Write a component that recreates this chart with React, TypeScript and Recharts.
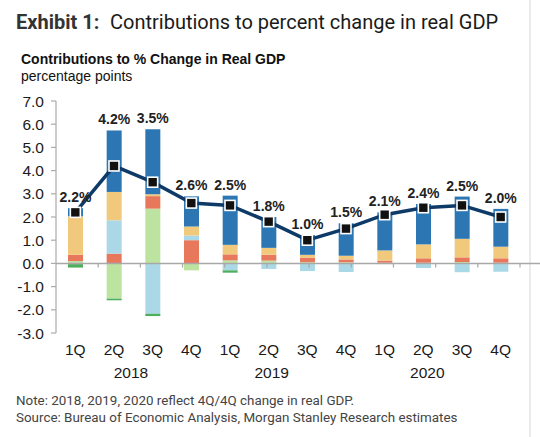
import React from 'react';
import { ComposedChart, Bar, Line, XAxis, YAxis, ReferenceLine, LabelList } from 'recharts';

// ---- data ----
const quarters = ['1Q', '2Q', '3Q', '4Q', '1Q', '2Q', '3Q', '4Q', '1Q', '2Q', '3Q', '4Q'];
const years = ['2018', '2018', '2018', '2018', '2019', '2019', '2019', '2019', '2020', '2020', '2020', '2020'];
const inventories = [0.1, -1.52, 2.36, -0.3, 0.13, 0.12, 0.05, 0.05, 0.03, 0.03, 0.06, 0.03];
const government = [0.27, 0.42, 0.54, 1.0, 0.26, 0.25, 0.2, 0.12, 0.09, 0.19, 0.2, 0.19];
const netExports = [-0.03, 1.44, -2.17, 0.2, -0.3, -0.24, -0.33, -0.37, -0.03, -0.2, -0.38, -0.36];
const businessInvestment = [1.66, 1.22, 0.08, 0.39, 0.41, 0.3, 0.12, 0.16, 0.44, 0.6, 0.8, 0.5];
const residential = [-0.15, -0.07, -0.1, 0, -0.1, 0, 0, 0, 0, 0, 0, 0];
const consumption = [0.35, 2.65, 2.8, 1.3, 2.12, 1.33, 0.85, 1.4, 1.64, 1.74, 1.82, 1.63];
const realGdp = [2.2, 4.2, 3.5, 2.6, 2.5, 1.8, 1.0, 1.5, 2.1, 2.4, 2.5, 2.0];
const yTicks = [-3, -2, -1, 0, 1, 2, 3, 4, 5, 6, 7];
const boundaries = [1, 2, 3, 4, 5, 6, 7, 8, 9, 10, 11, 12];

const data = quarters.map((q, i) => ({
  key: `${q} ${years[i]}`,
  quarter: q,
  year: years[i],
  inventories: inventories[i],
  government: government[i],
  netExports: netExports[i],
  businessInvestment: businessInvestment[i],
  residential: residential[i],
  consumption: consumption[i],
  total: realGdp[i],
}));

const AXIS_FONT = '"Liberation Sans", Arial, sans-serif';
const ROBOTO = 'Roboto, "Noto Sans", sans-serif';
const YEAR_DX = [17, 3, 4];

const QuarterTick = (props: any) => {
  const { x, y, index } = props;
  const d = data[index];
  const showYear = index % 4 === 1;
  return (
    <g>
      <text x={x} y={y + 22} textAnchor="middle" fontSize={15.5} fontFamily={AXIS_FONT} fill="#1a1a1a">
        {d.quarter}
      </text>
      {showYear && (
        <text
          x={x + YEAR_DX[Math.floor(index / 4)]}
          y={y + 44.5}
          textAnchor="middle"
          fontSize={15.5}
          fontFamily={AXIS_FONT}
          fill="#1a1a1a"
        >
          {d.year}
        </text>
      )}
    </g>
  );
};

const SquareDot = (props: any) => {
  const { cx, cy, index } = props;
  if (cx == null || cy == null) return <g key={index} />;
  return (
    <rect key={index} x={cx - 5} y={cy - 5} width={10} height={10} fill="#111" stroke="#fff" strokeWidth={1.6} />
  );
};

export default function App() {
  return (
    <div style={{ position: 'absolute', left: 0, top: 0, width: 540, height: 437, background: '#fff', overflow: 'hidden' }}>
      <svg width={540} height={437} style={{ position: 'absolute', left: 0, top: 0 }}>
        <text x={16} y={29} fontFamily={ROBOTO} fontSize={20} fontWeight={700} fill="#333">
          Exhibit 1:
        </text>
        <text x={110} y={29} fontFamily={ROBOTO} fontSize={20} fill="#1a1a1a">
          Contributions to percent change in real GDP
        </text>
        <text x={21} y={64} fontFamily={AXIS_FONT} fontSize={14} fontWeight={700} fill="#111">
          Contributions to % Change in Real GDP
        </text>
        <text x={21} y={81} fontFamily={AXIS_FONT} fontSize={14} fill="#111">
          percentage points
        </text>
        <text x={16} y={405} fontFamily={ROBOTO} fontSize={13.4} fill="#444">
          Note: 2018, 2019, 2020 reflect 4Q/4Q change in real GDP.
        </text>
        <text x={16} y={422} fontFamily={ROBOTO} fontSize={13.4} fill="#444">
          Source: Bureau of Economic Analysis, Morgan Stanley Research estimates
        </text>
        <line x1={530} y1={0} x2={530} y2={437} stroke="#e4e4e4" strokeWidth={1.5} />
      </svg>
      <div style={{ position: 'absolute', left: 0, top: 0 }}>
        <ComposedChart
          width={540}
          height={437}
          data={data}
          stackOffset="sign"
          margin={{ top: 101, right: 20, bottom: 64, left: 0 }}
          barCategoryGap={0}
        >
          <YAxis
            domain={[-3, 7]}
            ticks={yTicks}
            interval={0}
            width={56}
            tickFormatter={(v: number) => v.toFixed(1)}
            tick={{ fontSize: 15.5, fontFamily: AXIS_FONT, fill: '#1a1a1a' }}
            axisLine={{ stroke: '#aaa', strokeWidth: 1.2 }}
            tickLine={{ stroke: '#aaa', strokeWidth: 1.2 }}
            tickSize={5}
            tickMargin={7}
          />
          <XAxis
            dataKey="key"
            height={40}
            interval={0}
            axisLine={false}
            tickLine={false}
            tickSize={0}
            tickMargin={0}
            tick={<QuarterTick />}
          />
          <XAxis xAxisId="num" type="number" domain={[0, 12]} allowDataOverflow hide />
          <Bar dataKey="inventories" stackId="a" fill="#bce3a0" barSize={15} isAnimationActive={false} />
          <Bar dataKey="government" stackId="a" fill="#e8785b" barSize={15} isAnimationActive={false} />
          <Bar dataKey="netExports" stackId="a" fill="#aad8e7" barSize={15} isAnimationActive={false} />
          <Bar dataKey="businessInvestment" stackId="a" fill="#f0c97d" barSize={15} isAnimationActive={false} />
          <Bar dataKey="residential" stackId="a" fill="#4daf5c" barSize={15} isAnimationActive={false} />
          <Bar dataKey="consumption" stackId="a" fill="#2c76b3" barSize={15} isAnimationActive={false}>
            <LabelList
              dataKey="total"
              position="top"
              offset={6}
              formatter={(v: any) => `${Number(v).toFixed(1)}%`}
              style={{ fontSize: 14, fontWeight: 700, fontFamily: AXIS_FONT, fill: '#222' }}
            />
          </Bar>
          <ReferenceLine
            xAxisId="num"
            segment={[{ x: 0, y: 0 }, { x: 12.2, y: 0 }]}
            ifOverflow="visible"
            stroke="#a8a8a8"
            strokeWidth={1.5}
          />
          {boundaries.map((b) => (
            <ReferenceLine
              key={b}
              xAxisId="num"
              segment={[{ x: b, y: 0 }, { x: b, y: -0.18 }]}
              ifOverflow="visible"
              stroke="#a8a8a8"
              strokeWidth={1.2}
            />
          ))}
          <Line
            dataKey="total"
            stroke="#0e3a68"
            strokeWidth={3.5}
            dot={<SquareDot />}
            activeDot={false}
            isAnimationActive={false}
          />
        </ComposedChart>
      </div>
    </div>
  );
}
